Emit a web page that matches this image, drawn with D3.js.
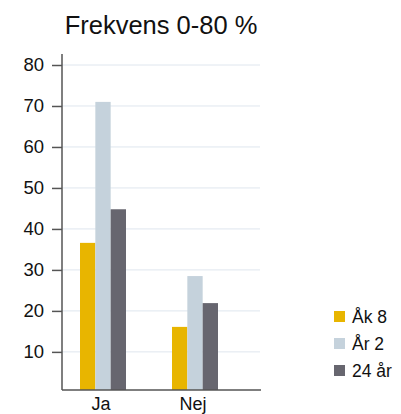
<!DOCTYPE html>
<html><head><meta charset="utf-8">
<script src="https://cdn.jsdelivr.net/npm/d3@7"></script>
<style>body{margin:0;background:#fff;} svg{display:block;font-family:"Liberation Sans",Arial,sans-serif;}</style>
</head><body><svg id="c" width="401" height="414"></svg>
<script>
const categories = ["Ja", "Nej"];
const seriesNames = ["Åk 8", "År 2", "24 år"];
const akr8 = [36.6, 16.1];
const ar2 = [71, 28.5];
const ar24 = [44.8, 21.9];
const yTicks = [10, 20, 30, 40, 50, 60, 70, 80];
const colors = ["#E8B500", "#C5D2DC", "#67666F"];
const title = "Frekvens 0-80 %";

const series = [akr8, ar2, ar24];
const svg = d3.select("#c");
const y = d3.scaleLinear().domain([0.7, 80]).range([390, 65]);
const x = d3.scaleBand().domain(categories).range([57, 241]).paddingInner(0.5).paddingOuter(0.25);
const xs = d3.scaleBand().domain(seriesNames).range([0, x.bandwidth()]);

// grid
svg.append("g").selectAll("line").data(yTicks).join("line")
  .attr("x1", 62).attr("x2", 260)
  .attr("y1", d => y(d)).attr("y2", d => y(d))
  .attr("stroke", "#dfe6ee").attr("stroke-width", 1);

// bars
categories.forEach((c, i) => {
  svg.append("g").selectAll("rect").data(series.map((s, k) => ({k, v: s[i]}))).join("rect")
    .attr("x", d => x(c) + xs(seriesNames[d.k]))
    .attr("width", xs.bandwidth())
    .attr("y", d => y(d.v))
    .attr("height", d => y(0.7) - y(d.v))
    .attr("fill", d => colors[d.k]);
});

// y axis
const ya = svg.append("g").attr("transform", "translate(62,0)")
  .call(d3.axisLeft(y).tickValues(yTicks).tickSize(10).tickPadding(8).tickSizeOuter(0));
ya.select(".domain").remove();
ya.selectAll(".tick line").attr("stroke", "#555").attr("stroke-width", 1.5);
ya.selectAll("text").attr("font-size", 18.5).attr("fill", "#111").attr("font-family", "Liberation Sans, Arial, sans-serif");
svg.append("line").attr("x1", 62).attr("x2", 62).attr("y1", 54).attr("y2", 390).attr("stroke", "#555").attr("stroke-width", 1.5);
svg.append("line").attr("x1", 62).attr("x2", 261).attr("y1", 390).attr("y2", 390).attr("stroke", "#555").attr("stroke-width", 1.5);

// x labels
svg.append("g").selectAll("text").data(categories).join("text")
  .attr("x", d => x(d) + x.bandwidth() / 2 - 2)
  .attr("y", 410).attr("text-anchor", "middle").attr("font-size", 18).attr("fill", "#111")
  .text(d => d);

// title
svg.append("text").attr("x", 161).attr("y", 34).attr("text-anchor", "middle")
  .attr("font-size", 25.5).attr("fill", "#111").text(title);

// legend
const lg = svg.append("g").selectAll("g").data(seriesNames).join("g")
  .attr("transform", (d, i) => `translate(334,${311 + i * 27})`);
lg.append("rect").attr("width", 11).attr("height", 11).attr("fill", (d, i) => colors[i]);
lg.append("text").attr("x", 18).attr("y", 12).attr("font-size", 17.5).attr("fill", "#111").text(d => d);
</script></body></html>
